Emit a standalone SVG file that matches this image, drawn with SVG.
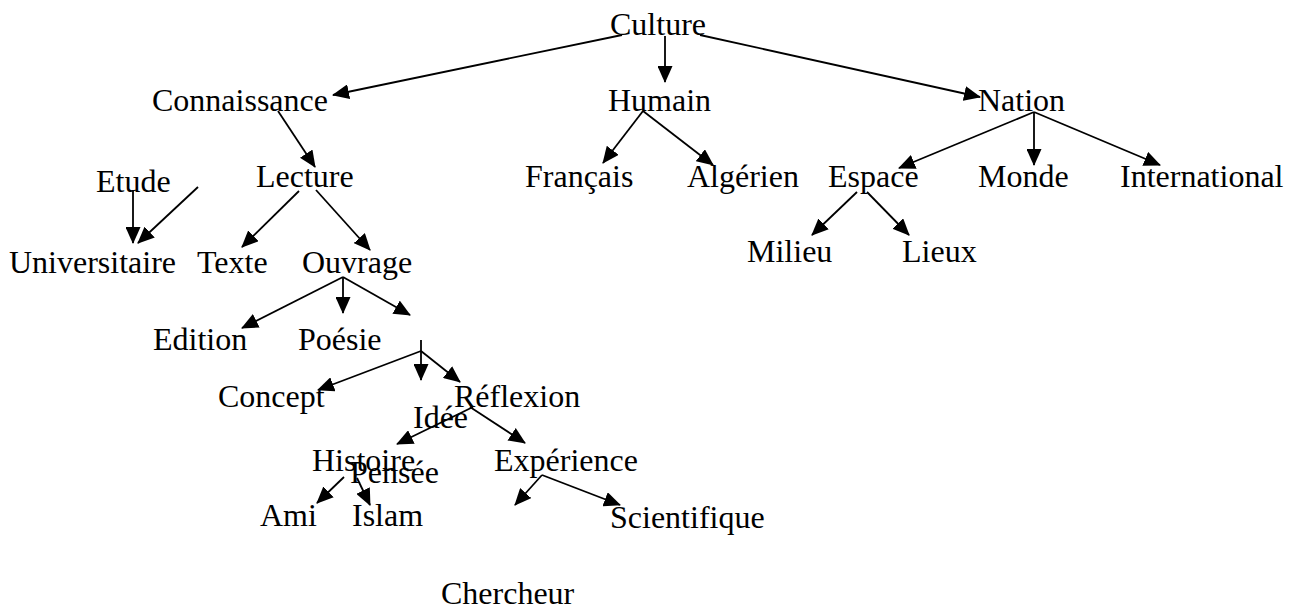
<svg xmlns="http://www.w3.org/2000/svg" width="1290" height="609" viewBox="0 0 1290 609">
  <style>
    .lbl { font-family: "Liberation Serif", "Times New Roman", serif; font-size: 32px; fill: #000; }
    .edge { stroke: #000; stroke-width: 1.8; fill: none; marker-end: url(#head); }
    .tick { stroke: #000; stroke-width: 1.8; fill: none; }
  </style>
  <defs>
    <marker id="head" markerUnits="userSpaceOnUse" markerWidth="17" markerHeight="15" viewBox="0 0 17 15" refX="16" refY="7.5" orient="auto">
      <path d="M0,0 L17,7.5 L0,15 Z" fill="#000"/>
    </marker>
  </defs>

  <rect width="1290" height="609" fill="#fff"/>

  <!-- connectors -->
  <g id="connectors">
    <line class="edge" x1="622" y1="35" x2="333" y2="95"/>
    <line class="edge" x1="665" y1="36" x2="665" y2="82"/>
    <line class="edge" x1="700" y1="35" x2="980" y2="97"/>
    <line class="edge" x1="278" y1="111" x2="315" y2="167"/>
    <line class="edge" x1="643" y1="111" x2="603" y2="163"/>
    <line class="edge" x1="643" y1="111" x2="713" y2="165"/>
    <line class="edge" x1="1034" y1="112" x2="899" y2="168"/>
    <line class="edge" x1="1034" y1="112" x2="1034" y2="165"/>
    <line class="edge" x1="1034" y1="112" x2="1160" y2="165"/>
    <line class="edge" x1="133" y1="190" x2="133" y2="243"/>
    <line class="edge" x1="198" y1="187" x2="138" y2="243"/>
    <line class="edge" x1="299" y1="191" x2="242" y2="247"/>
    <line class="edge" x1="316" y1="190" x2="370" y2="250"/>
    <line class="edge" x1="857" y1="192" x2="812" y2="235"/>
    <line class="edge" x1="867" y1="192" x2="909" y2="235"/>
    <line class="edge" x1="343" y1="277" x2="242" y2="328"/>
    <line class="edge" x1="343" y1="277" x2="343" y2="313"/>
    <line class="edge" x1="343" y1="277" x2="410" y2="315"/>
    <line class="tick" x1="421" y1="340" x2="421" y2="351"/>
    <line class="edge" x1="421" y1="351" x2="421" y2="380"/>
    <line class="edge" x1="421" y1="351" x2="318" y2="390"/>
    <line class="edge" x1="421" y1="351" x2="460" y2="382"/>
    <line class="edge" x1="473" y1="407" x2="397" y2="444"/>
    <line class="edge" x1="470" y1="407" x2="525" y2="443"/>
    <line class="edge" x1="344" y1="477" x2="317" y2="503"/>
    <line class="edge" x1="357" y1="478" x2="370" y2="505"/>
    <line class="edge" x1="542" y1="475" x2="515" y2="505"/>
    <line class="edge" x1="542" y1="475" x2="620" y2="505"/>
  </g>

  <!-- nodes -->
  <g id="n-culture"><text class="lbl" x="610" y="35">Culture</text></g>
  <g id="n-connaissance"><text class="lbl" x="152" y="111">Connaissance</text></g>
  <g id="n-humain"><text class="lbl" x="608" y="111">Humain</text></g>
  <g id="n-nation"><text class="lbl" x="978" y="111">Nation</text></g>
  <g id="n-etude"><text class="lbl" x="96" y="192">Etude</text></g>
  <g id="n-lecture"><text class="lbl" x="256" y="187">Lecture</text></g>
  <g id="n-francais"><text class="lbl" x="525" y="187">Français</text></g>
  <g id="n-algerien"><text class="lbl" x="687" y="187">Algérien</text></g>
  <g id="n-espace"><text class="lbl" x="828" y="187">Espace</text></g>
  <g id="n-monde"><text class="lbl" x="978" y="187">Monde</text></g>
  <g id="n-international"><text class="lbl" x="1120" y="187">International</text></g>
  <g id="n-universitaire"><text class="lbl" x="9" y="273">Universitaire</text></g>
  <g id="n-texte"><text class="lbl" x="197" y="273">Texte</text></g>
  <g id="n-ouvrage"><text class="lbl" x="302" y="273">Ouvrage</text></g>
  <g id="n-milieu"><text class="lbl" x="747" y="262">Milieu</text></g>
  <g id="n-lieux"><text class="lbl" x="902" y="262">Lieux</text></g>
  <g id="n-edition"><text class="lbl" x="153" y="350">Edition</text></g>
  <g id="n-poesie"><text class="lbl" x="298" y="350">Poésie</text></g>
  <g id="n-concept"><text class="lbl" x="218" y="407">Concept</text></g>
  <g id="n-reflexion"><text class="lbl" x="454" y="407">Réflexion</text></g>
  <g id="n-idee"><text class="lbl" x="413" y="428">Idée</text></g>
  <g id="n-histoire"><text class="lbl" x="312" y="471">Histoire</text></g>
  <g id="n-experience"><text class="lbl" x="494" y="471">Expérience</text></g>
  <g id="n-pensee"><text class="lbl" x="350" y="483">Pensée</text></g>
  <g id="n-ami"><text class="lbl" x="260" y="526">Ami</text></g>
  <g id="n-islam"><text class="lbl" x="352" y="526">Islam</text></g>
  <g id="n-scientifique"><text class="lbl" x="610" y="528">Scientifique</text></g>
  <g id="n-chercheur"><text class="lbl" x="441" y="604">Chercheur</text></g>
</svg>
